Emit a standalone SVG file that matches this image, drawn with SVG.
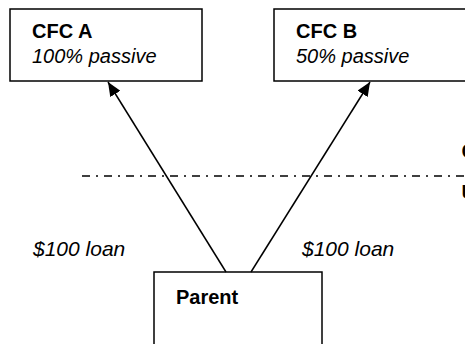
<svg xmlns="http://www.w3.org/2000/svg" width="465" height="344" viewBox="0 0 465 344">
  <style>
    .box { fill: #ffffff; stroke: #000000; stroke-width: 1.5; }
    .title { font-family: "Liberation Sans", Arial, sans-serif; font-weight: bold; font-size: 20px; fill: #000; }
    .sub { font-family: "Liberation Sans", Arial, sans-serif; font-style: italic; font-size: 20px; fill: #000; }
    .label { font-family: "Liberation Sans", Arial, sans-serif; font-style: italic; font-size: 21px; fill: #000; }
    .edge { stroke: #000; stroke-width: 1.5; fill: none; }
    .divider { stroke: #000; stroke-width: 1.5; stroke-dasharray: 8 6 2 6; fill: none; }
  </style>
  <defs>
    <marker id="arrow" viewBox="0 0 14 12" refX="14" refY="6" markerWidth="14" markerHeight="12" markerUnits="userSpaceOnUse" orient="auto">
      <path d="M0,0 L14,6 L0,12 z" fill="#000"/>
    </marker>
  </defs>

  <rect width="465" height="344" fill="#ffffff"/>

  <!-- border between the two jurisdictions -->
  <line class="divider" x1="82" y1="176" x2="465" y2="176"/>
  <text class="title" x="461.5" y="158">CFCs</text>
  <text class="title" x="461.5" y="199">US</text>

  <g id="cfc-a">
    <rect class="box" x="10" y="9" width="192" height="72"/>
    <text class="title" x="32" y="38">CFC A</text>
    <text class="sub" x="32" y="63">100% passive</text>
  </g>

  <g id="cfc-b">
    <rect class="box" x="274" y="9" width="192" height="72"/>
    <text class="title" x="296" y="38">CFC B</text>
    <text class="sub" x="296" y="63">50% passive</text>
  </g>

  <g id="parent">
    <rect class="box" x="154" y="272" width="168" height="80"/>
    <text class="title" x="176" y="304">Parent</text>
  </g>

  <g id="connectors">
    <line class="edge" x1="226" y1="272" x2="108" y2="82" marker-end="url(#arrow)"/>
    <line class="edge" x1="251" y1="272" x2="370" y2="82" marker-end="url(#arrow)"/>
    <text class="label" x="33" y="256">$100 loan</text>
    <text class="label" x="302" y="256">$100 loan</text>
  </g>
</svg>
